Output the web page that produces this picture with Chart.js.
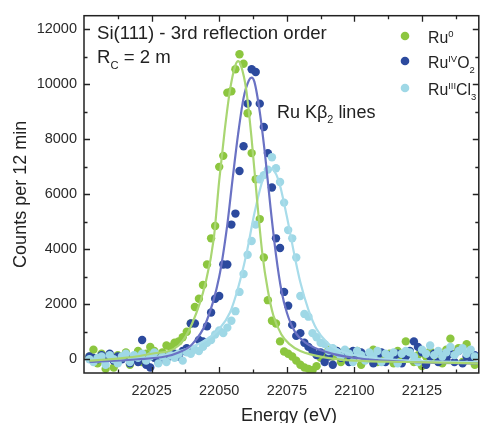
<!DOCTYPE html>
<html>
<head>
<meta charset="utf-8">
<script src="https://cdn.jsdelivr.net/npm/chart.js@4/dist/chart.umd.min.js"></script>
<style>
  html, body { margin: 0; padding: 0; background: #fff; }
  #wrap { width: 483px; height: 423px; position: relative; }
</style>
</head>
<body>
<div id="wrap"><canvas id="kbChart" width="483" height="423"></canvas></div>
<script>
// measured energies (eV), shared by the three samples
const energy = [22002, 22003.5, 22005, 22006.5, 22008, 22009.5, 22011, 22012.5, 22014, 22015.5,
  22017, 22018.5, 22020, 22021.5, 22023, 22024.5, 22026, 22027.5, 22029, 22030.5,
  22032, 22033.5, 22035, 22036.5, 22038, 22039.5, 22041, 22042.5, 22044, 22045.5,
  22047, 22048.5, 22050, 22051.5, 22053, 22054.5, 22056, 22057.5, 22059, 22060.5,
  22062, 22063.5, 22065, 22066.5, 22068, 22069.5, 22071, 22072.5, 22074, 22075.5,
  22077, 22078.5, 22080, 22081.5, 22083, 22084.5, 22086, 22087.5, 22089, 22090.5,
  22092, 22093.5, 22095, 22096.5, 22098, 22099.5, 22101, 22102.5, 22104, 22105.5,
  22107, 22108.5, 22110, 22111.5, 22113, 22114.5, 22116, 22117.5, 22119, 22120.5,
  22122, 22123.5, 22125, 22126.5, 22128, 22129.5, 22131, 22132.5, 22134, 22135.5,
  22137, 22138.5, 22140, 22141.5, 22143, 22144.5];

const ru0 = [100, 350, -150, 200, -350, 100, -300, 150, 50, 250,
  -200, 100, 300, -100, 200, 450, 300, 100, 250, 500,
  450, 600, 650, 800, 1000, 1300, 1900, 2200, 2700, 3450,
  4400, 4850, 7000, 7400, 9700, 9750, 10550, 11100, 10750, 8950,
  7500, 6550, 5100, 3700, 2150, 1400, 1300, 650, 280, 200,
  100, -50, -200, -300, -350, -400, -250, 50, 200, 350,
  100, 300, -100, 150, 250, 50, 300, -200, 100, 200,
  350, -100, 150, 50, 200, -150, 300, 100, 650, 200,
  -100, 150, -250, 100, 300, 50, 200, -150, 350, 750,
  200, 400, -100, 550, 100, -200];

const ruO2 = [100, 50, 0, 150, 50, 200, -50, 100, 0, 150,
  -150, 50, -100, 700, -200, -300, 50, -100, 100, 0,
  150, 200, 100, 300, 400, 1300, 1300, 700, 650, 1200,
  1700, 2200, 2300, 3450, 3450, 4900, 5300, 6850, 7750, 9300,
  10550, 10450, 9300, 8450, 7500, 6250, 4400, 4050, 2450, 1950,
  1250, 850, 950, 600, 450, 300, 150, 250, -100, 100,
  -200, 300, 50, 250, -100, 300, 150, 250, 50, 200,
  -150, 100, 250, -100, 150, 50, 200, -150, 100, 300,
  650, 450, 250, -200, 100, 200, -100, 150, 0, 200,
  -100, 300, -150, 100, 50, 150];

const ruCl3 = [0, -100, 50, 100, -200, 150, 0, -150, 100, 200,
  -100, 150, 50, 200, -50, 100, 250, -150, 100, -100,
  150, 50, 200, -50, 250, 200, 350, 300, 450, 600,
  700, 900, 1050, 950, 1150, 1400, 1750, 2450, 3100, 3800,
  4300, 4900, 6550, 6700, 6900, 7350, 6950, 6450, 5700, 4700,
  4400, 3700, 2300, 1650, 1550, 950, 800, 600, 550, 300,
  400, 250, 100, 350, 200, -100, 300, 150, -50, 250,
  100, 300, -100, 200, 100, 250, -150, 200, 300, 250,
  100, -100, 350, 200, 500, 150, 300, 100, 250, 450,
  150, 300, 400, 200, 350, 100];

// fitted curves
const ru0FitE = [22002, 22015, 22025, 22035, 22040, 22045, 22048, 22050, 22052, 22054, 22056, 22057, 22058,
  22060, 22062, 22064, 22066, 22068, 22070, 22073, 22076, 22080, 22090, 22100, 22120, 22146];
const ru0FitC = [-50, 50, 200, 500, 1300, 2800, 4400, 6500, 8300, 9800, 10700, 10850, 10700,
  9800, 8000, 5800, 3800, 2500, 1600, 900, 550, 300, 50, -50, -100, -150];

const ruO2FitE = [22002, 22020, 22030, 22035, 22040, 22045, 22050, 22053, 22055, 22057, 22059, 22061, 22062,
  22063, 22065, 22067, 22069, 22071, 22073, 22075, 22078, 22082, 22090, 22100, 22120, 22146];
const ruO2FitC = [-100, 0, 100, 250, 550, 1300, 3000, 4900, 6600, 8200, 9500, 10150, 10250,
  10100, 9000, 7400, 5500, 3800, 2500, 1700, 1000, 600, 250, 50, -100, -150];

const ruCl3FitE = [22002, 22020, 22030, 22040, 22045, 22050, 22054, 22057, 22060, 22063, 22066, 22068, 22069,
  22070, 22072, 22075, 22078, 22080, 22083, 22086, 22090, 22095, 22100, 22120, 22146];
const ruCl3FitC = [-100, 0, 150, 450, 700, 1100, 1700, 2600, 3800, 5300, 6500, 6900, 6950,
  6900, 6500, 5200, 3700, 2800, 1800, 1100, 600, 300, 150, -50, -100];

const xTicks = [22025, 22050, 22075, 22100, 22125];
const xMinor = [22012.5, 22037.5, 22062.5, 22087.5, 22112.5, 22137.5];
const yTicks = [0, 2000, 4000, 6000, 8000, 10000, 12000];
const yMinor = [1000, 3000, 5000, 7000, 9000, 11000];

const cGreen = "#8cc63f";
const cBlue = "#2c4a9e";
const cLight = "#9fd8e6";
const FONT = '"Liberation Sans", Arial, sans-serif';

function pts(xs, ys) {
  return xs.map((x, i) => ({ x: x, y: ys[i] }));
}

function richText(ctx, x, y, parts, size) {
  let cx = x;
  for (const p of parts) {
    const s = p.k ? size * 0.6 : size;
    ctx.font = s + "px " + FONT;
    let dy = 0;
    if (p.k === "sup") dy = -size * 0.4;
    if (p.k === "sub") dy = size * 0.3;
    ctx.fillText(p.t, cx, y + dy);
    cx += ctx.measureText(p.t).width;
  }
}

const decor = {
  id: "decor",
  afterDatasetsDraw(chart) {
    const { ctx, chartArea: a, scales } = chart;
    const x = scales.x, y = scales.y;
    ctx.save();
    ctx.strokeStyle = "#222";
    ctx.lineWidth = 1.5;
    ctx.strokeRect(a.left, a.top, a.right - a.left, a.bottom - a.top);
    ctx.lineWidth = 1.3;
    ctx.beginPath();
    const xt = (v, len) => {
      const px = Math.round(x.getPixelForValue(v)) + 0.5;
      ctx.moveTo(px, a.bottom); ctx.lineTo(px, a.bottom - len);
      ctx.moveTo(px, a.top); ctx.lineTo(px, a.top + len);
    };
    const yt = (v, len) => {
      const py = Math.round(y.getPixelForValue(v)) + 0.5;
      ctx.moveTo(a.left, py); ctx.lineTo(a.left + len, py);
      ctx.moveTo(a.right, py); ctx.lineTo(a.right - len, py);
    };
    xTicks.forEach(v => xt(v, 6));
    xMinor.forEach(v => xt(v, 3.5));
    yTicks.forEach(v => yt(v, 6));
    yMinor.forEach(v => yt(v, 3.5));
    ctx.stroke();

    ctx.fillStyle = "#222";
    ctx.textBaseline = "alphabetic";
    ctx.textAlign = "left";
    richText(ctx, 97, 39, [{ t: "Si(111) - 3rd reflection order" }], 18.6);
    richText(ctx, 97, 63, [{ t: "R" }, { t: "C", k: "sub" }, { t: " = 2 m" }], 18.6);
    richText(ctx, 277, 118, [{ t: "Ru K\u03b2" }, { t: "2", k: "sub" }, { t: " lines" }], 18);

    const legend = [
      { c: cGreen, y: 36, parts: [{ t: "Ru" }, { t: "0", k: "sup" }] },
      { c: cBlue, y: 61, parts: [{ t: "Ru" }, { t: "IV", k: "sup" }, { t: "O" }, { t: "2", k: "sub" }] },
      { c: cLight, y: 88, parts: [{ t: "Ru" }, { t: "III", k: "sup" }, { t: "Cl" }, { t: "3", k: "sub" }] },
    ];
    legend.forEach(it => {
      ctx.fillStyle = it.c;
      ctx.beginPath();
      ctx.arc(405, it.y, 4.3, 0, Math.PI * 2);
      ctx.fill();
      ctx.fillStyle = "#222";
      richText(ctx, 428, it.y + 7, it.parts, 15.8);
    });

    ctx.font = "18px " + FONT;
    ctx.textAlign = "center";
    ctx.textBaseline = "middle";
    ctx.fillText("Energy (eV)", 289, 416);
    ctx.restore();
  },
};

const dotStyle = { showLine: false, pointRadius: 4.2, pointHoverRadius: 4.2, pointBorderWidth: 0 };
const fitStyle = { showLine: true, pointRadius: 0, borderWidth: 2.2, cubicInterpolationMode: "monotone", fill: false };

new Chart(document.getElementById("kbChart").getContext("2d"), {
  type: "scatter",
  data: {
    datasets: [
      { ...fitStyle, type: "line", label: "Ru0 fit", data: pts(ru0FitE, ru0FitC), borderColor: "#a9d672", order: 0 },
      { ...fitStyle, type: "line", label: "RuO2 fit", data: pts(ruO2FitE, ruO2FitC), borderColor: "#6a72c4", order: 0 },
      { ...fitStyle, type: "line", label: "RuCl3 fit", data: pts(ruCl3FitE, ruCl3FitC), borderColor: "#a8dcea", order: 0 },
      { ...dotStyle, label: "Ru0", data: pts(energy, ru0), backgroundColor: cGreen, order: 3 },
      { ...dotStyle, label: "RuO2", data: pts(energy, ruO2), backgroundColor: cBlue, order: 2 },
      { ...dotStyle, label: "RuCl3", data: pts(energy, ruCl3), backgroundColor: cLight, order: 1 },
    ],
  },
  options: {
    responsive: false,
    animation: false,
    layout: { padding: { top: 13, right: 1, left: 0, bottom: 0 } },
    plugins: { legend: { display: false }, tooltip: { enabled: false } },
    scales: {
      x: {
        type: "linear",
        min: 22000,
        max: 22146,
        border: { display: false },
        grid: { display: false, drawTicks: false },
        afterBuildTicks: (s) => { s.ticks = xTicks.map(v => ({ value: v })); },
        afterFit: (s) => { s.height = 50; },
        ticks: {
          padding: 9,
          color: "#2a2a2a",
          font: { family: FONT, size: 14.5 },
          callback: (v) => String(v),
        },
      },
      y: {
        min: -500,
        max: 12500,
        border: { display: false },
        grid: { display: false, drawTicks: false },
        afterBuildTicks: (s) => { s.ticks = yTicks.map(v => ({ value: v })); },
        afterFit: (s) => { s.width = 84; },
        ticks: {
          padding: 7,
          color: "#2a2a2a",
          font: { family: FONT, size: 14.5 },
          callback: (v) => String(v),
        },
        title: {
          display: true,
          text: "Counts per 12 min",
          color: "#222",
          font: { family: FONT, size: 18, lineHeight: 1.2 },
          padding: { top: 10, bottom: 0 },
        },
      },
    },
  },
  plugins: [decor],
});
</script>
</body>
</html>
